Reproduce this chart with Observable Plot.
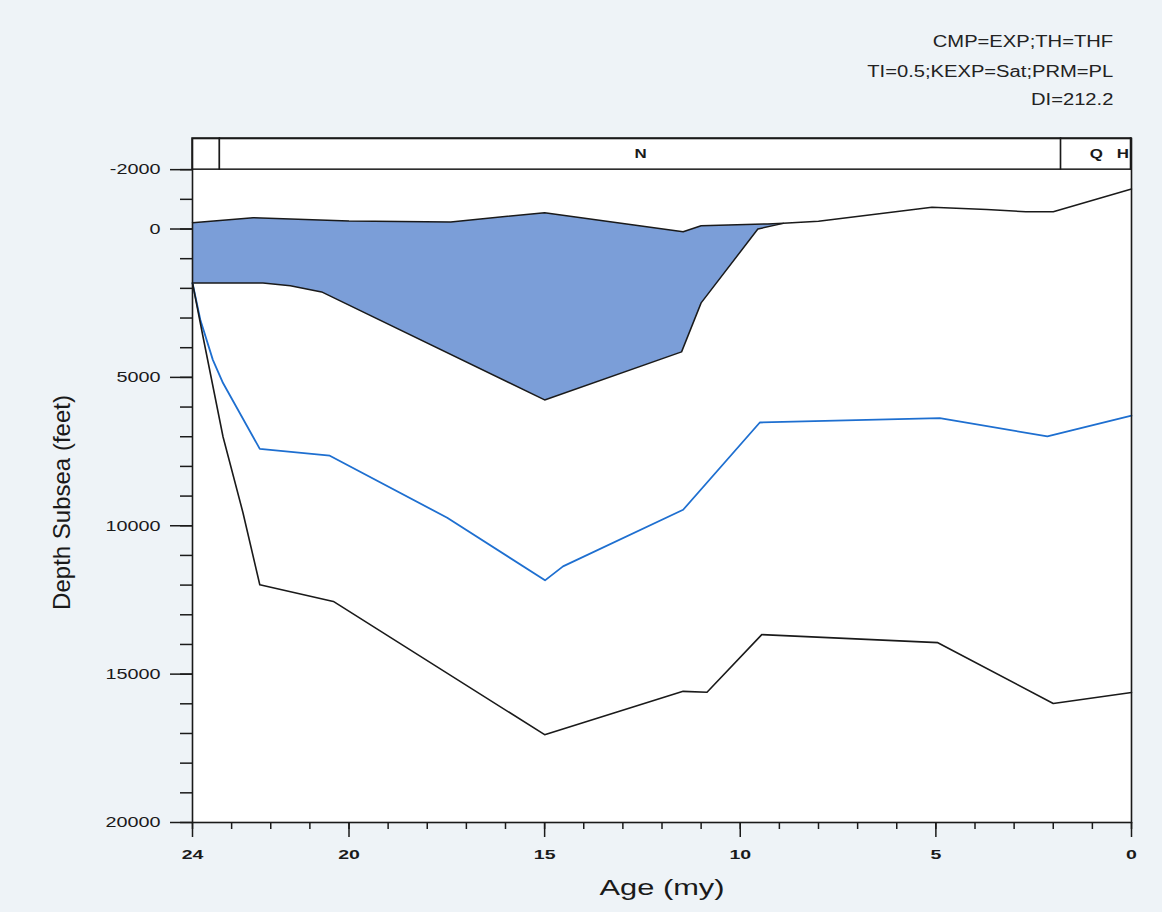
<!DOCTYPE html>
<html><head><meta charset="utf-8">
<script src="https://cdn.jsdelivr.net/npm/d3@7"></script>
<script src="https://cdn.jsdelivr.net/npm/@observablehq/plot@0.6"></script>
<style>
html,body{margin:0;padding:0;background:#eef3f7;}
#wrap{position:relative;width:1162px;height:912px;}
.note{position:absolute;right:49px;font:16px "Liberation Sans",Arial,sans-serif;color:#222;transform:scaleX(1.26);transform-origin:right center;white-space:nowrap;line-height:18px;}
</style></head><body><div id="wrap"></div>
<script>
// ---- data ----
const notes = ["CMP=EXP;TH=THF", "TI=0.5;KEXP=Sat;PRM=PL", "DI=212.2"];

const periodNames = ["", "N", "Q", "H"];
const periodStart = [24, 23.3, 1.8, 0.01];
const periodEnd = [23.3, 1.8, 0.01, 0];
const periodLabelAge = [23.65, 12.55, 0.9, 0.22];
const bandDepth = [-3050, -2000];

const surfaceAge = [24, 22.45, 20.0, 17.4, 15.0, 11.46, 11.0, 9.3, 8.9, 8.0, 5.1, 3.7, 2.7, 2.0, 0];
const surfaceDepth = [-210, -380, -270, -240, -550, 90, -110, -170, -190, -260, -730, -660, -580, -580, -1350];

const fillBaseAge = [24, 22.2, 21.5, 20.7, 15.0, 11.5, 11.0, 9.55, 8.9];
const fillBaseDepth = [1820, 1820, 1910, 2120, 5760, 4140, 2490, 0, -190];

const blueAge = [24, 23.8, 23.48, 23.22, 22.28, 20.49, 17.49, 14.99, 14.53, 11.46, 9.5, 4.9, 2.15, 0];
const blueDepth = [1820, 3060, 4410, 5190, 7410, 7640, 9730, 11840, 11370, 9460, 6520, 6370, 6990, 6290];

const blackAge = [24, 23.73, 23.22, 22.71, 22.28, 20.4, 15.0, 11.46, 10.85, 9.45, 4.95, 2.0, 0];
const blackDepth = [1820, 3640, 7000, 9560, 11990, 12550, 17040, 15580, 15610, 13670, 13940, 15990, 15620];

const yMajorTicks = [-2000, 0, 5000, 10000, 15000, 20000];
const yMinorTicks = d3.range(-2000, 20001, 1000);
const xMajorTicks = [24, 20, 15, 10, 5, 0];
const xMinorTicks = d3.range(0, 25, 1);

const yLabel = "Depth Subsea (feet)";
const xLabel = "Age (my)";

// ---- build tables ----
const pts = (a, d) => a.map((v, i) => ({age: v, depth: d[i]}));
const surface = pts(surfaceAge, surfaceDepth);
const fillBase = pts(fillBaseAge, fillBaseDepth);
const blue = pts(blueAge, blueDepth);
const black = pts(blackAge, blackDepth);
const fillPoly = surface.filter(p => p.age >= fillBaseAge[fillBaseAge.length - 1])
  .concat(fillBase.slice().reverse());
const periods = periodNames.map((n, i) => ({
  name: n, start: periodStart[i], end: periodEnd[i], label: periodLabelAge[i],
  top: bandDepth[0], bottom: bandDepth[1], mid: (bandDepth[0] + bandDepth[1]) / 2
}));

const ink = "#1a1a1a";
const chart = Plot.plot({
  width: 1162, height: 912,
  marginLeft: 192, marginRight: 31, marginTop: 138, marginBottom: 90,
  style: {fontFamily: '"Liberation Sans", Arial, sans-serif', background: "transparent", color: ink},
  x: {domain: [24, 0]},
  y: {domain: [bandDepth[0], 20000], reverse: true},
  marks: [
    Plot.frame({fill: "white", stroke: "none"}),
    Plot.line(fillPoly, {x: "age", y: "depth", fill: "#7b9ed8", stroke: "none"}),
    Plot.line(fillBase, {x: "age", y: "depth", stroke: ink, strokeWidth: 1.5}),
    Plot.line(surface, {x: "age", y: "depth", stroke: ink, strokeWidth: 1.5}),
    Plot.line(blue, {x: "age", y: "depth", stroke: "#1e6fd0", strokeWidth: 1.8}),
    Plot.line(black, {x: "age", y: "depth", stroke: ink, strokeWidth: 1.6}),
    Plot.rect(periods, {x1: "start", x2: "end", y1: "top", y2: "bottom", fill: "white", stroke: ink, strokeWidth: 1.5}),
    Plot.text(periods.filter(p => p.name), {x: "label", y: "mid", text: "name", fontSize: 13, fontWeight: "bold"}),
    Plot.frame({stroke: ink, strokeWidth: 1.6}),
    Plot.axisY(yMajorTicks, {tickSize: 22, tickPadding: 10, tickFormat: d => String(d), fontSize: 15, strokeWidth: 1.5, label: null}),
    Plot.axisY(yMinorTicks, {tickSize: 12, tickFormat: () => "", strokeWidth: 1.5, label: null}),
    Plot.axisX(xMajorTicks, {tickSize: 15, tickPadding: 12, tickFormat: d => String(d), fontSize: 13, fontWeight: "bold", strokeWidth: 1.5, label: null}),
    Plot.axisX(xMinorTicks, {tickSize: 7, tickFormat: () => "", strokeWidth: 1.5, label: null}),
    Plot.text([yLabel], {text: d => d, frameAnchor: "left", textAnchor: "middle", lineAnchor: "middle", dx: -130, dy: 22, rotate: -90, fontSize: 24}),
    Plot.text([xLabel], {text: d => d, frameAnchor: "bottom", lineAnchor: "middle", dy: 65, fontSize: 22})
  ]
});

const wrap = document.getElementById("wrap");
wrap.appendChild(chart);

// widen glyphs horizontally like the scanned original
function stretch(t, s) {
  const L = t.getComputedTextLength();
  if (L > 0) {
    t.setAttribute("textLength", (L * s).toFixed(2));
    t.setAttribute("lengthAdjust", "spacingAndGlyphs");
  }
}
const yTickSet = new Set(yMajorTicks.map(String));
const xTickSet = new Set(xMajorTicks.map(String));
const bandSet = new Set(periodNames.filter(n => n));
chart.querySelectorAll("text").forEach(t => {
  const s = t.textContent;
  const g = t.closest("g");
  const aria = g ? (g.getAttribute("aria-label") || "") : "";
  if (aria.startsWith("y-axis") && yTickSet.has(s)) stretch(t, 1.32);
  else if (aria.startsWith("x-axis") && xTickSet.has(s)) stretch(t, 1.5);
  else if (s === xLabel) stretch(t, 1.4);
  else if (bandSet.has(s)) stretch(t, 1.3);
});

const tops = [33, 63, 91];
notes.forEach((n, i) => {
  const d = document.createElement("div");
  d.className = "note";
  d.style.top = tops[i] + "px";
  d.textContent = n;
  wrap.appendChild(d);
});
</script>
</body></html>
